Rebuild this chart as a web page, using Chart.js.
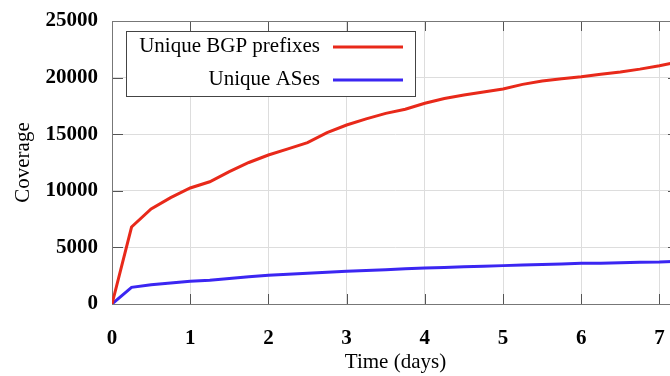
<!DOCTYPE html>
<html><head><meta charset="utf-8">
<script src="https://cdn.jsdelivr.net/npm/chart.js@4/dist/chart.umd.min.js"></script>
<style>html,body{margin:0;padding:0;background:#fff;overflow:hidden;width:670px;height:376px}
#wrap{width:690px;height:376px;position:relative}</style>
</head><body><div id="wrap"><canvas id="c" width="690" height="376"></canvas></div>
<script>
const days = [0,0.25,0.5,0.75,1,1.25,1.5,1.75,2,2.25,2.5,2.75,3,3.25,3.5,3.75,4,4.25,4.5,4.75,5,5.25,5.5,5.75,6,6.25,6.5,6.75,7,7.25];
const prefixes = [0,6800,8400,9400,10250,10800,11690,12500,13160,13700,14250,15130,15810,16350,16840,17200,17730,18150,18460,18730,19000,19400,19700,19900,20080,20300,20500,20750,21050,21400];
const ases = [0,1470,1700,1850,2000,2100,2250,2400,2530,2620,2720,2800,2890,2960,3030,3110,3180,3230,3290,3340,3390,3440,3490,3540,3590,3610,3640,3680,3710,3780];
const seriesLabels = ["Unique BGP prefixes","Unique ASes"];
const xTicks = [0,1,2,3,4,5,6,7];
const yTicks = [0,5000,10000,15000,20000,25000];
const xTitle = "Time (days)";
const yTitle = "Coverage";

const RED = '#e8291a', BLUE = '#3b26f2';
const SERIF = '"Liberation Serif","Times New Roman",serif';

const frame = {
  id:'frame',
  beforeDatasetsDraw(chart){
    const {ctx, chartArea:a, scales:{x,y}} = chart;
    ctx.save();
    ctx.strokeStyle = '#555'; ctx.lineWidth = 1;
    ctx.beginPath();
    xTicks.forEach(v=>{const px=Math.round(x.getPixelForValue(v))+0.5;
      ctx.moveTo(px,a.bottom); ctx.lineTo(px,a.bottom-10);
      ctx.moveTo(px,a.top); ctx.lineTo(px,a.top+10);});
    yTicks.forEach(v=>{const py=Math.round(y.getPixelForValue(v))+0.5;
      ctx.moveTo(a.left,py); ctx.lineTo(a.left+11,py);
      ctx.moveTo(a.right,py); ctx.lineTo(a.right-11,py);});
    ctx.stroke();
    ctx.strokeStyle = '#777';
    ctx.strokeRect(Math.round(a.left)+0.5, Math.round(a.top)+0.5, Math.round(a.right-a.left), Math.round(a.bottom-a.top));
    ctx.restore();
  },
  afterDatasetsDraw(chart){
    const ctx = chart.ctx;
    ctx.save();
    ctx.fillStyle='#fff';
    ctx.fillRect(126,31,289,65);
    ctx.strokeStyle='#444'; ctx.lineWidth=1;
    ctx.strokeRect(126.5,31.5,289,65);
    ctx.font = '21px '+SERIF;
    ctx.fillStyle='#000'; ctx.textAlign='right'; ctx.textBaseline='alphabetic';
    const rows=[{y:47,c:RED},{y:80,c:BLUE}];
    chart.data.datasets.forEach((ds,i)=>{
      ctx.fillText(ds.label, 320, rows[i].y+5);
      ctx.strokeStyle=rows[i].c; ctx.lineWidth=3;
      ctx.beginPath(); ctx.moveTo(333,rows[i].y); ctx.lineTo(403,rows[i].y); ctx.stroke();
    });
    ctx.restore();
  }
};

new Chart(document.getElementById('c'), {
  type:'line',
  data:{datasets:[
    {label:seriesLabels[0], data:days.map((d,i)=>({x:d,y:prefixes[i]})), borderColor:RED, borderWidth:3, pointRadius:0, tension:0},
    {label:seriesLabels[1], data:days.map((d,i)=>({x:d,y:ases[i]})), borderColor:BLUE, borderWidth:3, pointRadius:0, tension:0}
  ]},
  options:{
    responsive:false, animation:false,
    layout:{padding:{top:21,right:11,left:0,bottom:0}},
    plugins:{legend:{display:false}, tooltip:{enabled:false}},
    scales:{
      x:{type:'linear', min:0, max:7.25,
        afterBuildTicks(s){s.ticks=xTicks.map(v=>({value:v}));},
        afterFit(s){s.height=72; s.paddingLeft=0; s.paddingRight=0;},
        grid:{color:'#dddddd', drawTicks:false, lineWidth:1},
        border:{display:false},
        ticks:{color:'#000', padding:22, font:{family:SERIF, size:21, weight:'bold'}, maxRotation:0},
        title:{display:true, text:xTitle, color:'#000', font:{family:SERIF, size:21}, padding:{top:0,bottom:1}}
      },
      y:{type:'linear', min:0, max:25000,
        afterBuildTicks(s){s.ticks=yTicks.map(v=>({value:v}));},
        afterFit(s){s.width=112; s.paddingTop=0; s.paddingBottom=0;},
        grid:{color:'#dddddd', drawTicks:false, lineWidth:1},
        border:{display:false},
        ticks:{color:'#000', padding:14, font:{family:SERIF, size:21, weight:'bold'}, callback:v=>String(v)},
        title:{display:true, text:yTitle, color:'#000', font:{family:SERIF, size:21}, padding:{top:11,bottom:0}}
      }
    }
  },
  plugins:[frame]
});
</script></body></html>
